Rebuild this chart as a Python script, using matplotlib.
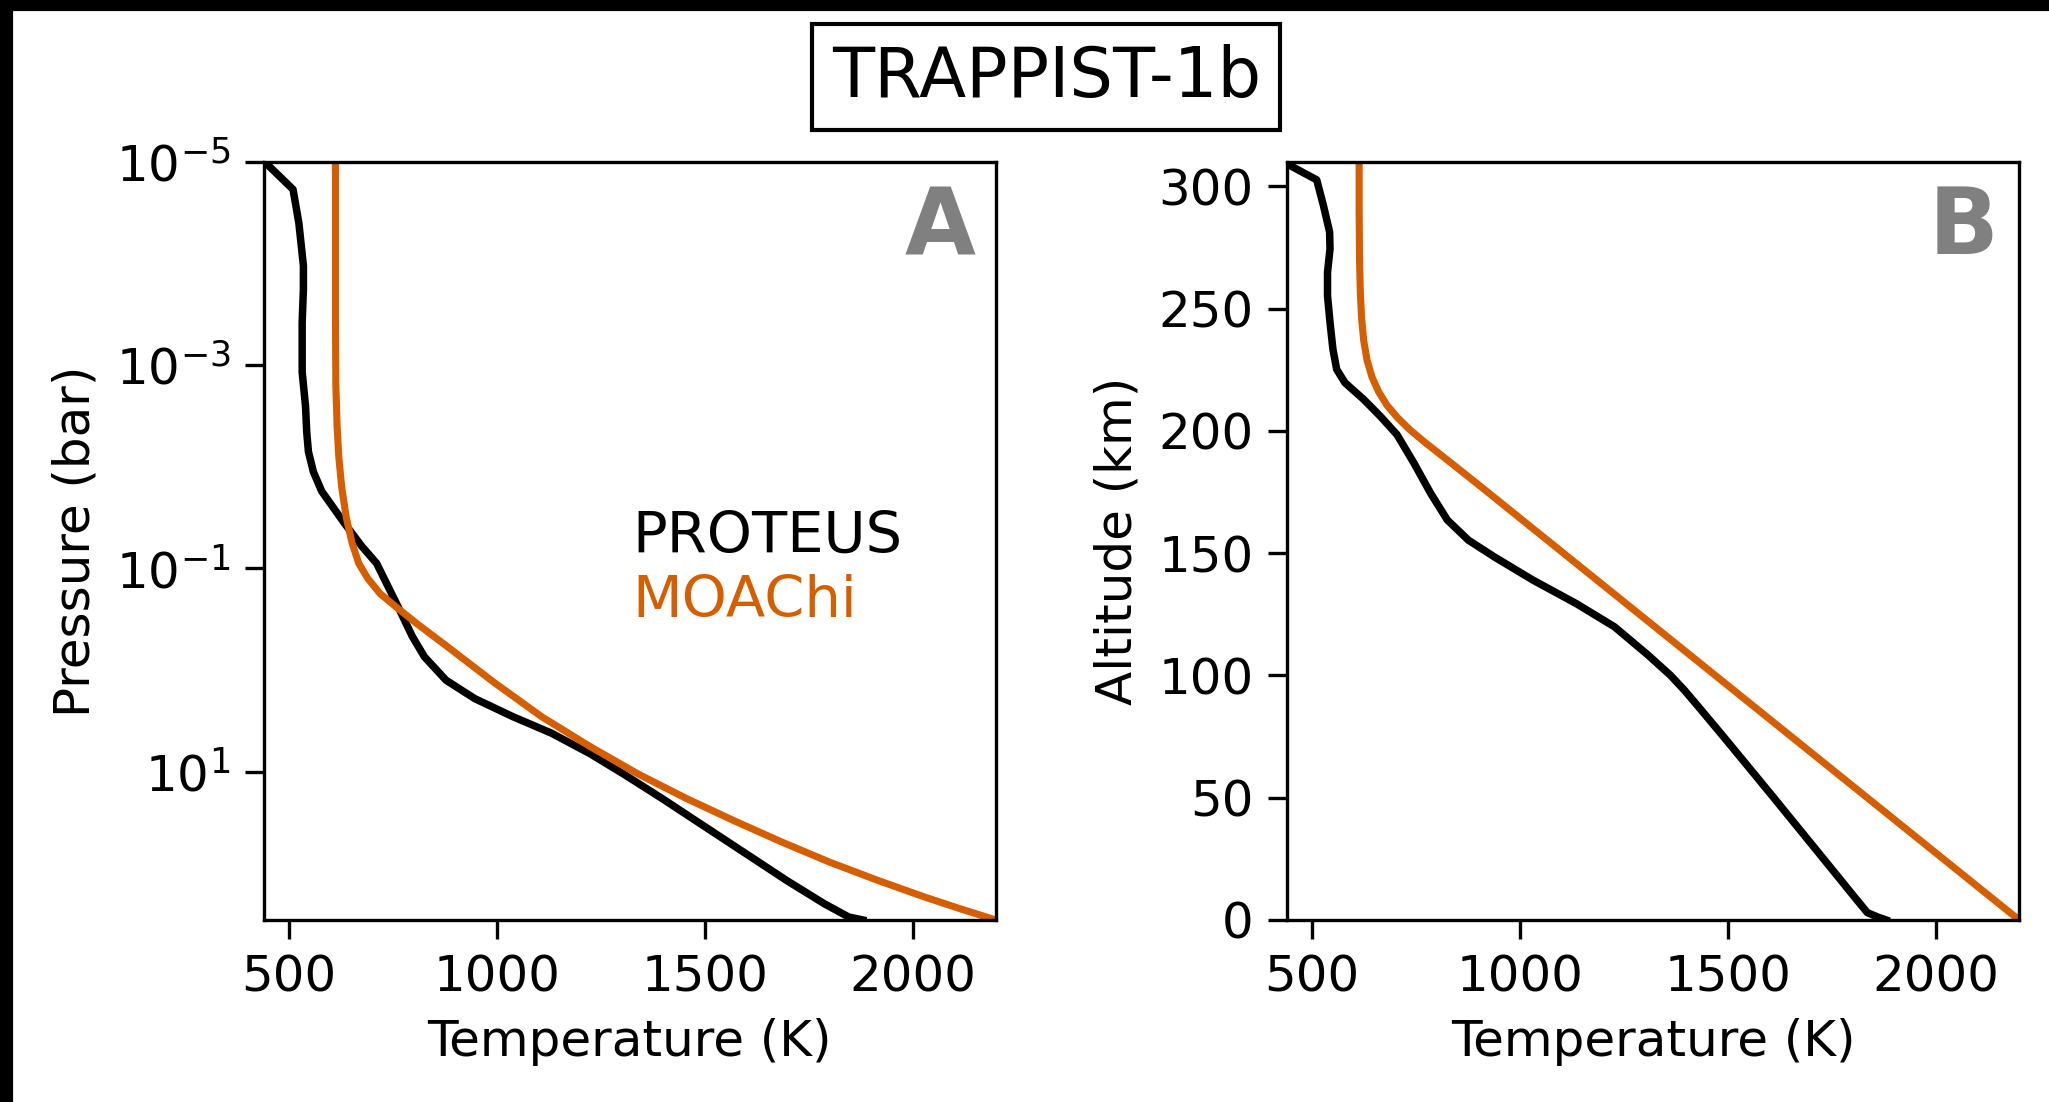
"""
plot.py - TRAPPIST-1b temperature profiles, PROTEUS vs MOAChi.
Panel A: temperature against pressure, panel B: temperature against altitude.
Saves out.png.
"""
import matplotlib
matplotlib.use("Agg")
import matplotlib.pyplot as plt
from matplotlib.patches import Rectangle
from matplotlib.ticker import NullLocator

# PROTEUS profile on pressure levels (K, bar)
proteus_T_p = [442, 510, 524, 535, 535, 532, 532, 540, 543, 547, 559, 579, 631, 675,
               711, 763, 797, 826, 878, 947, 1039, 1131, 1223, 1304, 1396, 1500, 1604,
               1696, 1788, 1846, 1880]
proteus_P = [1.0e-5, 1.86e-5, 3.98e-5, 1.05e-4, 1.78e-4, 3.80e-4, 1.17e-3, 2.51e-3,
             4.57e-3, 7.08e-3, 1.12e-2, 1.74e-2, 3.47e-2, 6.03e-2, 8.91e-2, 0.240,
             0.468, 0.741, 1.26, 1.91, 2.88, 4.17, 6.61, 10.5, 18.2, 34.7, 66.1, 117,
             200, 269, 288]

# MOAChi profile on pressure levels (K, bar)
moachi_T_p = [612, 612, 612, 613, 616, 620, 627, 638, 652, 668, 690, 720, 764, 810,
              878, 993, 1108, 1223, 1339, 1454, 1569, 1684, 1800, 1915, 2030, 2115, 2200]
moachi_P = [1.0e-5, 1.0e-4, 3.16e-4, 1.58e-3, 3.98e-3, 7.94e-3, 1.58e-2, 3.16e-2,
            5.62e-2, 8.91e-2, 0.126, 0.178, 0.251, 0.355, 0.575, 1.32, 2.88, 5.62,
            10.5, 18.2, 30.2, 49.0, 77.6, 117, 172, 224, 288]

# PROTEUS profile on altitude levels (K, km)
proteus_T_z = [442, 511, 527, 542, 543, 537, 537, 543, 550, 559, 579, 624, 664, 704,
               745, 785, 825, 876, 938, 1031, 1135, 1227, 1308, 1362, 1395, 1425, 1489,
               1552, 1610, 1677, 1744, 1806, 1835, 1860, 1880]
proteus_z = [309, 302.7, 292.3, 281.4, 274.5, 264.9, 255.3, 244.4, 233.4, 225.2, 219.7,
             212.9, 206, 198.5, 186.8, 174.5, 163.6, 155.3, 148.5, 139, 129.4, 119.9,
             108.3, 100, 94, 88, 75, 62, 50, 36, 22, 9, 3, 1.2, 0]

# MOAChi profile on altitude levels (K, km)
moachi_T_z = [613, 613, 614, 616, 619, 624, 632, 644, 660, 680, 705, 735, 770, 820,
              900, 2200]
moachi_z = [310, 290, 270, 256, 246, 237, 229, 222, 216, 210.5, 205.5, 200.5, 195.5,
            188.8, 178, 0]

P_TICKS = [1e-5, 1e-3, 1e-1, 1e1]
Z_TICKS = [0, 50, 100, 150, 200, 250, 300]
T_TICKS = [500, 1000, 1500, 2000]

BLACK = "black"
ORANGE = "#D55E00"


def style_axis(ax, letter):
    ax.set_xlim(440, 2200)
    ax.set_xticks(T_TICKS)
    ax.set_xlabel("Temperature (K)", fontsize=12)
    ax.tick_params(labelsize=12, length=4.5)
    ax.text(0.972, 0.972, letter, transform=ax.transAxes, ha="right", va="top",
            fontsize=22, fontweight="bold", color="#808080")


def main():
    fig = plt.figure(figsize=(2049 / 300, 1102 / 300), dpi=300)
    ax_a = fig.add_axes([0.1288, 0.1652, 0.3572, 0.6878])
    ax_b = fig.add_axes([0.6282, 0.1652, 0.3572, 0.6878])

    # A: pressure
    ax_a.plot(proteus_T_p, proteus_P, color=BLACK, lw=1.8)
    ax_a.plot(moachi_T_p, moachi_P, color=ORANGE, lw=1.7)
    ax_a.set_yscale("log")
    ax_a.set_ylim(288, 1e-5)
    ax_a.set_yticks(P_TICKS)
    ax_a.yaxis.set_minor_locator(NullLocator())
    ax_a.set_ylabel("Pressure (bar)", fontsize=12)
    style_axis(ax_a, "A")
    ax_a.text(0.504, 0.484, "PROTEUS", transform=ax_a.transAxes, color=BLACK,
              fontsize=13.8, va="baseline")
    ax_a.text(0.504, 0.400, "MOAChi", transform=ax_a.transAxes, color=ORANGE,
              fontsize=13.8, va="baseline")

    # B: altitude
    ax_b.plot(proteus_T_z, proteus_z, color=BLACK, lw=1.8)
    ax_b.plot(moachi_T_z, moachi_z, color=ORANGE, lw=1.7)
    ax_b.set_ylim(0, 310)
    ax_b.set_yticks(Z_TICKS)
    ax_b.set_ylabel("Altitude (km)", fontsize=12)
    style_axis(ax_b, "B")

    fig.text(0.5106, 0.930, "TRAPPIST-1b", ha="center", va="center", fontsize=16.5,
             bbox=dict(boxstyle="square,pad=0.28", fc="white", ec="black", lw=1.0))

    # dark strips along the top and left edges of the original image
    fig.add_artist(Rectangle((0, 1 - 9 / 1102), 1, 9 / 1102, transform=fig.transFigure,
                             color="black", zorder=10))
    fig.add_artist(Rectangle((0, 0), 11 / 2049, 1, transform=fig.transFigure,
                             color="black", zorder=10))

    fig.savefig("out.png", dpi=300)
    plt.close(fig)


if __name__ == "__main__":
    main()
